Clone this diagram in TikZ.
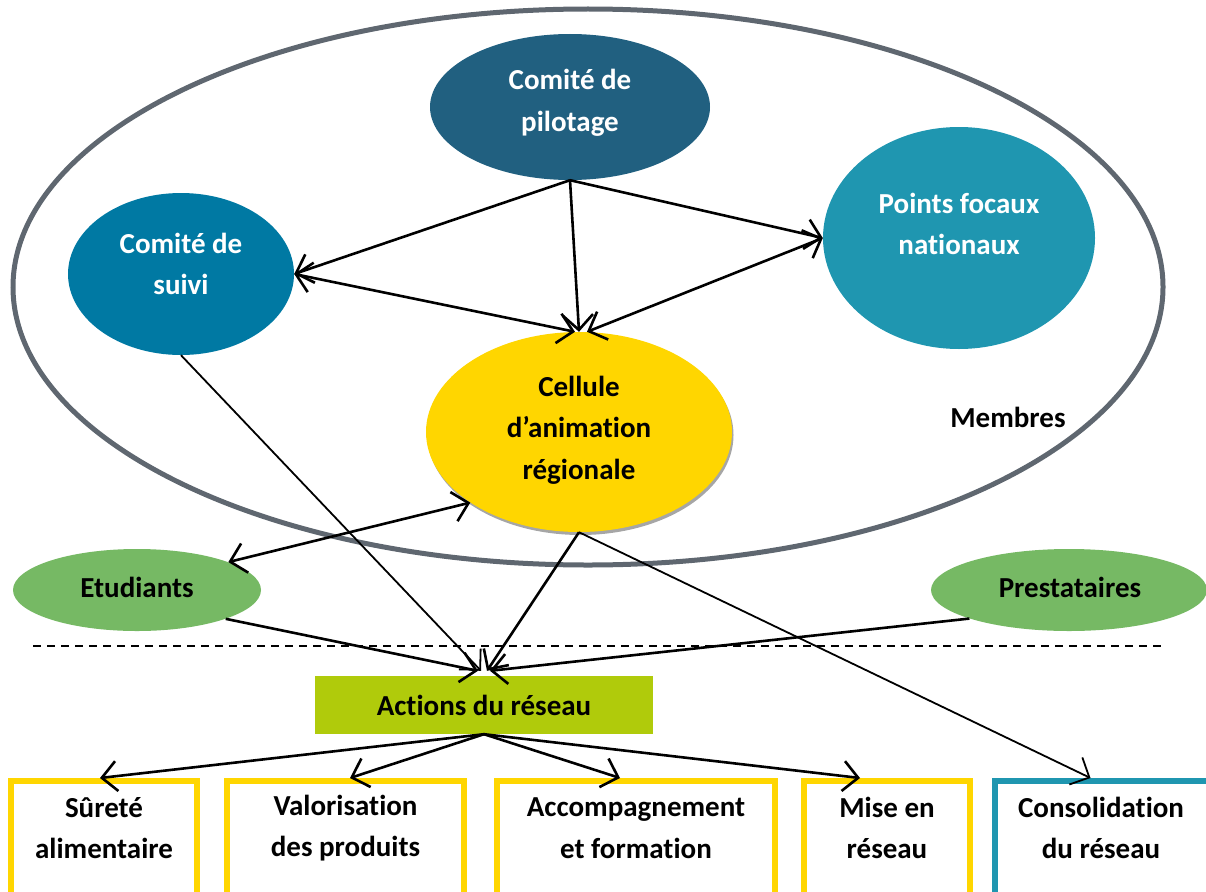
\documentclass[tikz,border=0pt]{standalone}
\usepackage{fontspec}
\setmainfont{Carlito}[Ligatures=NoCommon]
\usetikzlibrary{shapes.geometric,arrows.meta}
\definecolor{pilotblue}{RGB}{33,96,128}
\definecolor{suiviblue}{RGB}{0,121,163}
\definecolor{focauxblue}{RGB}{31,150,176}
\definecolor{cellyel}{RGB}{255,214,0}
\definecolor{extgreen}{RGB}{118,185,100}
\definecolor{actgreen}{RGB}{176,203,11}
\definecolor{membgray}{RGB}{95,103,112}

\begin{document}
\begin{tikzpicture}[x=1pt,y=-1pt,
  every node/.style={inner sep=0pt,align=center,font=\fontsize{29}{41.5}\selectfont\bfseries},
  blob/.style={ellipse,draw=none},
  lbl/.style={text=white},
  actbox/.style={rectangle,draw=cellyel,line width=6pt,minimum height=150,anchor=north},
  lnk/.style={line width=2.6pt},
  thinlnk/.style={line width=1.8pt},
  >={Straight Barb[length=15pt,width=30pt]}]
  \useasboundingbox (0,0) rectangle (1206,891);
  \clip (0,0) rectangle (1206,891);

  % membres
  \draw [membgray, line width=5pt] (588,287) ellipse (575pt and 278pt);
  \node (membres) at (1008,417) {Membres};

  \node [blob, fill=pilotblue, minimum width=280, minimum height=146] (pilot) at (570,107) {};
  \node [lbl] (pilot-t) at (570,103) {Comité de\\pilotage};
  \node [blob, fill=suiviblue, minimum width=226, minimum height=162] (suivi) at (181,274) {};
  \node [lbl] (suivi-t) at (181,264) {Comité de\\suivi};
  \node [blob, fill=focauxblue, minimum width=272, minimum height=222] (focaux) at (959,238) {};
  \node [lbl] (focaux-t) at (959,224) {Points focaux\\nationaux};
  \fill [black!35] (580.5,435) ellipse (153pt and 100pt);
  \node [blob, fill=cellyel, minimum width=306, minimum height=200] (cellule) at (579,432) {};
  \node (cellule-t) at (579,430) {Cellule\\d’animation\\régionale};

  % partenaires
  \node [blob, fill=extgreen, minimum width=248, minimum height=82] (etud) at (137,590) {};
  \node (etud-t) at (137,587) {Etudiants};
  \node [blob, fill=extgreen, minimum width=276, minimum height=82] (prest) at (1069,590) {};
  \node (prest-t) at (1070,587) {Prestataires};

  \draw [line width=1.5pt, dash pattern=on 8pt off 6pt] (33,646) -- (1162,646);

  % actions
  \node [rectangle, fill=actgreen, minimum width=338, minimum height=58] (actions) at (484,705) {Actions du réseau};
  \coordinate (actin) at ([yshift=5]actions.north);

  \node [actbox, minimum width=186] (surete) at (104,778) {};
  \node (surete-t) at (104,828) {Sûreté\\alimentaire};
  \node [actbox, minimum width=237] (valor) at (345.5,778) {};
  \node (valor-t) at (345.5,828) {Valorisation\\des produits};
  \node [actbox, minimum width=278] (accomp) at (636,778) {};
  \node (accomp-t) at (636,828) {Accompagnement\\et formation};
  \node [actbox, minimum width=166] (mise) at (887,778) {};
  \node (mise-t) at (887,828) {Mise en\\réseau};
  \node [actbox, draw=focauxblue, minimum width=217] (conso) at (1103.5,778) {};
  \node (conso-t) at (1101,828) {Consolidation\\du réseau};

  % liens
  \draw [lnk, ->] (pilot.south) -- (suivi.east);
  \draw [lnk, ->] (pilot.south) -- (cellule.north);
  \draw [lnk, ->] (pilot.south) -- (focaux.west);
  \draw [lnk, <->] (suivi.east) -- ([xshift=-4]cellule.north);
  \draw [lnk, <->] (focaux.west) -- ([xshift=8]cellule.north);
  \draw [lnk, <->] (etud.17) -- (cellule.213);
  \draw [thinlnk, ->] (suivi.south) -- ([xshift=-3]actin);
  \draw [lnk, ->] (cellule.south) -- ([xshift=3]actin);
  \draw [thinlnk, ->] (cellule.south) -- ([xshift=-13]conso.north);
  \draw [lnk, ->] (etud.-18) -- ([xshift=-6]actin);
  \draw [lnk, ->] (prest.196) -- ([xshift=6]actin);
  \draw [lnk, ->] (actions.south) -- ([xshift=-4]surete.north);
  \draw [lnk, ->] (actions.south) -- ([xshift=4.5]valor.north);
  \draw [lnk, ->] (actions.south) -- ([xshift=-16]accomp.north);
  \draw [lnk, ->] (actions.south) -- ([xshift=-27]mise.north);
\end{tikzpicture}
\end{document}
